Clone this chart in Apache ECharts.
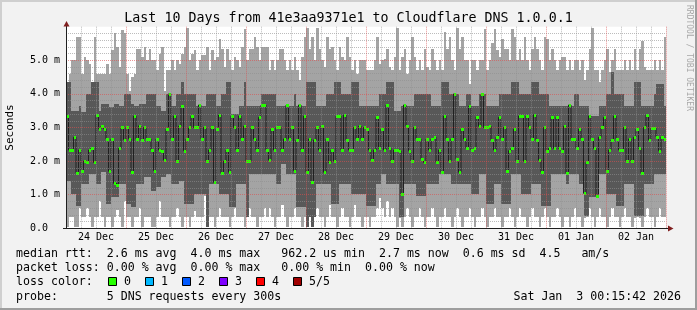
<!DOCTYPE html>
<html><head><meta charset="utf-8">
<script src="https://cdn.jsdelivr.net/npm/echarts@6/dist/echarts.min.js"></script>
<style>html,body{margin:0;padding:0;background:#f2f2f2}#c{width:697px;height:310px}</style>
</head><body><div id="c"></div>
<script>
// ---- data (milliseconds), one value per hour, first hour starts Dec 24 00:00 ----
const dayLabels = ['24 Dec','25 Dec','26 Dec','27 Dec','28 Dec','29 Dec','30 Dec','31 Dec','01 Jan','02 Jan'];
const dayLabelHours = [-12,12,36,60,84,108,132,156,180,204];
const yTickLabels = ['0.0  ','1.0 m','2.0 m','3.0 m','4.0 m','5.0 m'];

const medianMs = [
3.35,2.33,2.33,2.71,1.65,2.33,1.72,2.0,1.96,2.33,2.39,1.96,3.38,2.96,3.04,2.96,2.66,1.7,2.66,1.34,1.3,2.38,3.0,2.64,3.0,2.66,1.67,3.34,2.66,3.05,2.64,3.0,2.66,2.66,2.33,1.72,2.66,2.33,2.31,2.03,
2.95,4.0,2.66,3.34,2.0,3.04,3.63,2.31,2.66,3.0,3.34,3.0,3.0,3.67,2.66,3.0,2.0,2.33,3.0,1.37,2.95,3.38,1.64,2.0,2.33,1.67,3.34,3.0,2.33,3.34,2.66,3.04,2.0,2.0,3.0,2.66,2.33,3.3,3.67,3.67,
2.33,2.03,2.96,2.33,3.0,3.0,2.33,2.66,3.67,2.66,3.0,1.72,2.63,3.67,2.33,3.34,1.67,2.66,1.37,2.63,3.0,2.33,3.04,1.67,2.66,1.96,2.33,2.0,3.34,3.34,2.33,3.37,2.63,2.33,2.33,3.0,2.66,3.04,2.66,3.0,
2.95,2.33,2.03,2.33,3.3,2.38,2.95,2.33,3.67,2.38,2.0,2.33,2.33,2.31,1.02,3.67,3.04,2.31,2.0,3.0,2.66,2.66,2.06,1.96,2.66,2.33,2.66,2.71,1.96,2.33,1.67,3.34,2.66,2.0,2.66,4.0,2.06,1.67,2.95,2.66,
2.38,3.63,2.33,2.38,3.32,3.04,4.0,3.0,3.0,3.04,2.63,2.33,2.71,3.3,2.66,3.0,1.72,2.31,2.38,2.95,2.0,3.34,3.34,2.0,3.34,3.0,2.66,3.38,2.63,2.03,1.67,3.0,2.31,2.38,3.3,2.38,3.3,2.38,2.31,3.04,
1.64,3.67,2.66,2.66,2.38,2.95,2.66,1.04,1.96,3.34,2.66,2.38,0.97,2.71,3.0,3.3,1.72,2.33,2.63,3.34,2.66,2.33,2.33,3.0,2.0,2.66,2.0,2.71,2.95,2.38,1.64,3.0,3.38,2.63,2.98,2.98,2.72,2.31,2.72,2.66
];
const maxMs = [
4.34,4.6,5.0,5.0,5.68,5.68,4.6,5.1,5.0,4.9,4.35,5.7,4.6,4.6,4.6,4.6,4.9,4.6,5.3,5.8,5.4,4.8,5.9,5.8,4.6,4.1,4.5,4.6,5.35,5.35,5.1,5.4,5.0,5.35,5.0,5.0,4.7,5.2,5.4,4.1,
4.7,4.7,5.0,4.7,5.0,4.9,5.2,5.4,5.95,5.0,5.2,5.3,4.7,5.0,5.15,5.15,5.4,4.7,5.3,5.0,5.1,5.63,5.35,4.8,5.35,5.0,4.7,5.1,5.0,4.8,5.4,5.93,5.0,5.35,5.35,5.68,5.4,5.0,5.4,5.4,
5.4,4.7,5.0,4.7,5.0,5.35,5.35,5.0,4.7,5.0,4.7,5.1,4.7,4.4,5.1,5.68,5.95,5.35,5.68,5.0,5.95,5.35,5.0,4.8,5.68,5.35,5.4,5.0,4.7,5.4,5.1,5.0,5.68,5.1,4.7,5.0,4.6,5.0,5.0,5.0,
4.7,4.7,4.7,5.0,5.68,4.9,5.0,5.05,5.35,4.8,4.7,5.1,5.95,4.7,5.1,5.35,4.6,5.0,5.68,5.1,4.7,5.0,4.7,5.35,4.8,4.7,5.35,5.0,4.7,5.0,4.7,5.83,5.35,5.68,5.0,4.7,5.95,5.35,5.68,5.0,
5.0,4.3,5.0,5.0,4.7,5.0,5.0,5.93,4.7,5.0,5.5,5.93,5.3,5.1,5.63,5.35,5.35,5.0,5.93,5.68,5.0,5.35,5.0,5.68,5.0,4.7,5.35,5.68,5.35,5.0,4.7,5.68,5.63,5.0,5.35,5.0,4.7,5.0,5.1,5.1,
4.7,5.0,4.7,5.0,5.0,4.7,5.0,4.4,4.7,5.35,5.95,4.7,4.7,4.34,4.7,5.0,5.35,4.65,5.0,5.35,4.7,4.7,4.7,5.0,4.7,5.0,4.7,5.35,4.7,5.35,5.58,4.8,4.7,4.7,4.7,5.0,4.7,5.0,4.7,5.68
];
const darkHighMs = [
4.34,4.34,3.5,3.5,3.5,3.65,3.45,3.45,4.0,4.0,4.34,4.34,4.34,3.5,3.7,3.7,3.7,3.6,3.6,3.7,3.7,3.65,3.65,4.0,4.0,4.0,3.7,3.65,3.65,3.7,3.7,3.7,4.0,4.0,4.0,4.0,3.65,3.65,3.5,3.5,
4.0,4.0,3.65,3.65,4.0,4.0,4.34,4.0,4.0,4.0,4.0,4.0,3.65,3.65,3.65,3.65,4.0,4.0,4.0,4.0,3.65,3.65,4.0,4.0,4.34,4.34,3.4,3.4,3.4,3.65,3.65,4.34,3.65,3.65,3.65,3.65,3.65,3.65,4.0,4.0,
4.0,4.0,4.0,4.0,3.65,3.65,3.65,3.65,3.65,3.65,3.65,4.0,3.65,3.65,3.65,3.65,4.34,4.34,4.34,4.34,3.65,3.65,3.65,3.65,4.0,4.0,4.0,4.34,4.34,4.34,4.0,4.0,4.0,4.0,4.34,4.34,4.34,3.65,3.65,3.65,
3.65,3.65,3.65,3.65,3.65,4.0,4.0,4.0,4.34,4.34,4.34,3.5,3.5,3.5,3.65,3.65,3.65,3.65,3.65,4.0,4.0,4.0,4.0,4.0,4.0,4.0,3.65,3.65,3.65,3.65,4.34,4.34,4.34,4.0,4.0,4.0,4.0,3.65,3.65,3.65,
4.0,4.0,3.65,3.65,3.65,4.0,4.0,4.0,3.65,3.65,3.65,3.65,3.65,4.0,4.0,4.0,4.0,4.0,4.34,4.34,4.34,4.0,4.0,4.0,4.0,4.0,4.34,4.34,4.34,4.0,4.0,4.0,4.0,3.65,3.65,3.65,3.65,3.65,3.65,3.65,
3.65,3.65,3.65,4.0,4.0,3.65,3.65,3.65,3.65,3.35,3.35,3.35,3.35,3.65,3.65,3.65,4.0,4.0,4.65,4.0,4.0,4.0,4.0,3.65,3.65,3.65,3.65,4.34,4.34,4.34,3.65,3.65,3.65,3.65,3.65,4.0,4.3,4.3,4.3,3.65
];
const darkLowMs = [
1.42,1.42,1.02,1.02,0.67,0.67,1.32,1.32,1.32,1.62,1.62,1.62,1.32,1.32,1.67,1.67,0.72,0.72,0.92,0.92,0.92,1.32,1.32,1.32,0.72,0.72,0.62,0.62,1.32,1.32,1.32,1.52,1.52,1.52,1.12,1.12,1.22,1.22,1.52,1.52,
1.62,1.62,1.32,1.32,1.32,1.42,1.42,0.72,0.72,0.72,0.72,1.02,1.02,1.02,1.02,1.02,0.05,1.32,1.32,1.32,1.32,1.02,1.02,1.02,1.02,0.62,0.62,0.62,1.32,1.32,1.32,1.32,0.33,1.62,1.62,1.62,1.62,1.62,1.62,1.62,
1.62,1.62,1.62,1.62,1.32,1.32,1.92,1.92,1.62,1.62,1.62,1.62,0.62,0.62,0.62,0.62,0.05,0.33,0.05,0.33,1.32,1.32,1.32,1.32,1.32,1.32,0.72,0.72,0.72,1.32,1.32,1.32,1.32,1.32,1.02,1.02,1.02,1.02,1.02,1.02,
0.67,0.67,0.67,0.67,1.32,1.32,1.62,1.62,1.32,1.32,1.32,1.32,1.32,0.33,0.33,1.32,1.32,1.32,1.32,1.32,0.97,0.97,0.97,0.97,1.32,1.32,1.32,1.32,1.32,1.62,1.62,1.62,1.62,1.62,1.32,1.32,1.32,1.32,1.32,1.32,
1.32,1.32,1.02,1.02,1.02,1.62,1.62,1.62,0.72,0.72,0.72,1.32,1.32,1.32,0.72,0.72,0.72,0.72,1.62,1.62,1.62,1.62,1.02,1.02,1.02,1.02,1.32,1.32,1.32,1.32,0.67,0.67,0.67,0.67,1.62,1.62,1.62,1.62,1.62,1.62,
1.32,1.62,1.62,1.62,1.62,1.32,1.32,0.38,0.38,0.92,0.92,0.92,0.92,1.62,1.62,1.62,1.02,1.02,1.02,1.02,0.67,0.67,0.67,1.32,1.32,1.32,1.32,0.38,0.38,0.38,0.38,1.32,1.32,1.32,1.32,1.62,1.62,1.62,1.62,1.62
];
const minMs = [
0.05,0.35,0.35,0.05,0.05,0.6,0.35,0.35,0.6,0.35,0.05,0.35,0.35,0.8,0.35,0.05,0.35,0.35,0.05,0.35,0.55,0.35,0.05,0.8,0.35,0.35,0.05,0.35,0.35,0.6,0.05,0.35,0.35,0.35,0.05,0.05,0.35,0.8,0.35,0.35,
0.35,0.05,0.35,0.35,0.6,0.35,0.05,0.35,0.35,0.05,0.35,0.5,0.35,0.35,0.35,0.95,0.05,0.35,0.35,0.05,0.35,0.6,0.35,0.35,0.35,0.05,0.35,0.6,0.35,0.35,0.35,0.05,0.33,0.6,0.35,0.35,0.05,0.35,0.35,0.6,
0.35,0.6,0.35,0.05,0.35,0.35,0.7,0.35,0.05,0.35,0.35,0.6,0.35,0.35,0.05,0.35,0.05,0.35,0.05,0.35,0.6,0.35,0.35,0.05,0.35,0.7,0.35,0.35,0.05,0.35,0.6,0.35,0.35,0.05,0.35,0.7,0.35,0.35,0.05,0.35,
0.35,0.05,0.35,0.35,0.6,0.9,0.6,0.35,0.8,0.35,0.6,0.35,0.05,0.3,0.05,0.35,0.6,0.35,0.05,0.35,0.35,0.6,0.35,0.05,0.35,0.35,0.6,0.35,0.05,0.35,0.35,0.6,0.35,0.35,0.05,0.35,0.6,0.35,0.05,0.35,
0.35,0.6,0.35,0.05,0.35,0.35,0.6,0.35,0.05,0.35,0.35,0.6,0.35,0.35,0.05,0.35,0.35,0.6,0.35,0.05,0.35,0.6,0.35,0.35,0.05,0.35,0.6,0.35,0.35,0.05,0.35,0.6,0.35,0.05,0.35,0.35,0.6,0.35,0.05,0.35,
0.35,0.05,0.35,0.6,0.35,0.35,0.05,0.3,0.35,0.6,0.35,0.05,0.35,0.6,0.35,0.35,0.05,0.35,0.6,0.35,0.35,0.05,0.35,0.6,0.35,0.35,0.05,0.3,0.35,0.3,0.05,0.35,0.6,0.35,0.35,0.05,0.35,0.6,0.35,0.35
];
const lossLabels = ['0','1','2','3','4','5/5'];
const lossColors = ['#26ff00','#00b8ff','#0059ff','#7e00ff','#ff0000','#a00000'];

const titleText = 'Last 10 Days from 41e3aa9371e1 to Cloudflare DNS 1.0.0.1';
const legendLines = [
  'median rtt:  2.6 ms avg  4.0 ms max   962.2 us min  2.7 ms now  0.6 ms sd  4.5   am/s',
  'packet loss: 0.00 % avg  0.00 % max   0.00 % min  0.00 % now',
  'loss color:',
  'probe:       5 DNS requests every 300s'
];
const stampText = 'Sat Jan  3 00:15:42 2026';
const watermark = 'RRDTOOL / TOBI OETIKER';

// ---- chart ----
const MONO = "'DejaVu Sans Mono', monospace";
const STEP = 1; // hours per data point
const hours = medianMs.map((_, i) => i - 24);
const chart = echarts.init(document.getElementById('c'), null, {renderer: 'canvas'});

const smokeData = hours.map((t, i) => [t, minMs[i], darkLowMs[i], darkHighMs[i], maxMs[i]]);
const medianData = hours.map((t, i) => [t, medianMs[i]]);
medianData.push([hours[hours.length - 1] + STEP, medianMs[medianMs.length - 1]]);

function colRect(api, t, a, b) {
  const x0 = Math.round(api.coord([t, 0])[0]);
  const x1 = Math.round(api.coord([t + STEP, 0])[0]);
  const ya = Math.round(api.coord([t, a])[1]);
  const yb = Math.round(api.coord([t, b])[1]);
  return {x: x0, y: Math.min(ya, yb), width: x1 - x0, height: Math.abs(ya - yb)};
}

const textG = [];
const lineYs = [253.8, 268.3, 281.8, 296.8];
legendLines.forEach((s, k) => textG.push({type: 'text', x: 16, y: lineYs[k],
  style: {text: s, font: '11.6px ' + MONO, fill: '#000', verticalAlign: 'middle'}}));
lossLabels.forEach((lab, k) => {
  const bx = 108 + k * 37;
  textG.push({type: 'rect', shape: {x: bx + 0.5, y: 277.5, width: 8, height: 8},
    style: {fill: lossColors[k], stroke: '#000', lineWidth: 1}});
  textG.push({type: 'text', x: bx + 16, y: 281.8,
    style: {text: lab, font: '11.6px ' + MONO, fill: '#000', verticalAlign: 'middle'}});
});
textG.push({type: 'text', x: 681, y: 296.8,
  style: {text: stampText, font: '11.6px ' + MONO, fill: '#000', align: 'right', verticalAlign: 'middle'}});
textG.push({type: 'text', x: 348.5, y: 19,
  style: {text: titleText, font: '13.3px ' + MONO, fill: '#000', align: 'center', verticalAlign: 'middle'}});
textG.push({type: 'text', x: 689, y: 58, rotation: -Math.PI / 2,
  style: {text: watermark, font: '8px ' + MONO, fill: '#a8a8a8', align: 'center', verticalAlign: 'middle'}});
// frame
textG.push({type: 'rect', shape: {x: 0, y: 0, width: 697, height: 2}, style: {fill: '#cfcfcf'}, z: -1});
textG.push({type: 'rect', shape: {x: 0, y: 0, width: 2, height: 310}, style: {fill: '#cfcfcf'}, z: -1});
textG.push({type: 'rect', shape: {x: 0, y: 308, width: 697, height: 2}, style: {fill: '#9e9e9e'}, z: -1});
textG.push({type: 'rect', shape: {x: 695, y: 0, width: 2, height: 310}, style: {fill: '#9e9e9e'}, z: -1});
// axis extensions and arrows
textG.push({type: 'line', shape: {x1: 66.5, y1: 27, x2: 66.5, y2: 24}, style: {stroke: '#1f1f1f', lineWidth: 1}, z: 20});
textG.push({type: 'line', shape: {x1: 63, y1: 228.5, x2: 668, y2: 228.5}, style: {stroke: '#1f1f1f', lineWidth: 1}, z: 20});
textG.push({type: 'polygon', shape: {points: [[63.5, 26.5], [69.5, 26.5], [66.5, 21]]}, style: {fill: '#801f1f'}, z: 20});
textG.push({type: 'polygon', shape: {points: [[668, 225.5], [668, 231.5], [673.5, 228.5]]}, style: {fill: '#801f1f'}, z: 20});

const gridGray = {color: 'rgba(143,143,143,0.6)', width: 1, type: [1, 1]};
const gridRed = {color: 'rgba(222,79,79,0.6)', width: 1, type: [1, 1]};

chart.setOption({
  animation: false,
  backgroundColor: '#f2f2f2',
  grid: {left: 66, top: 26.7, width: 600, height: 201.6, show: true, backgroundColor: '#ffffff', borderWidth: 0,
    containLabel: false, outerBoundsMode: 'none'},
  xAxis: {
    type: 'value', min: -24, max: 216, interval: 24, z: 10,
    axisLine: {show: true, onZero: false, lineStyle: {color: '#1f1f1f', width: 1}},
    axisTick: {show: false},
    axisLabel: {customValues: dayLabelHours, formatter: v => dayLabels[Math.round((v + 12) / 24)] || '',
      fontFamily: MONO, fontSize: 10, color: '#000', margin: 4},
    splitLine: {show: true, showMinLine: false, showMaxLine: true, lineStyle: gridRed},
    minorTick: {show: false, splitNumber: 4},
    minorSplitLine: {show: true, lineStyle: gridGray}
  },
  yAxis: {
    type: 'value', min: 0, max: 6, interval: 1, z: 10,
    name: 'Seconds', nameLocation: 'middle', nameGap: 50, nameRotate: 90,
    nameTextStyle: {fontFamily: MONO, fontSize: 11, color: '#000'},
    axisLine: {show: true, onZero: false, lineStyle: {color: '#1f1f1f', width: 1}},
    axisTick: {show: false},
    axisLabel: {formatter: v => yTickLabels[v] || '', showMaxLabel: false,
      fontFamily: MONO, fontSize: 10, color: '#000', margin: 6},
    splitLine: {show: true, showMinLine: false, showMaxLine: false, lineStyle: gridRed},
    minorTick: {show: false, splitNumber: 5},
    minorSplitLine: {show: true, lineStyle: gridGray}
  },
  series: [
    {type: 'custom', z: 1, clip: true, data: smokeData, encode: {x: 0, y: [1, 2, 3, 4]},
      renderItem: (p, api) => {
        const t = api.value(0);
        return {type: 'group', children: [
          {type: 'rect', shape: colRect(api, t, api.value(1), api.value(4)), style: {fill: '#a4a4a4'}},
          {type: 'rect', shape: colRect(api, t, api.value(2), api.value(3)), style: {fill: '#585858'}}
        ]};
      }},
    {type: 'line', z: 2, step: 'end', data: medianData, showSymbol: false, symbol: 'none',
      lineStyle: {color: '#202020', width: 1}},
    {type: 'custom', z: 3, clip: true, data: medianData.slice(0, medianMs.length), encode: {x: 0, y: 1},
      renderItem: (p, api) => {
        const t = api.value(0);
        const x0 = Math.round(api.coord([t, 0])[0]);
        const x1 = Math.round(api.coord([t + STEP, 0])[0]);
        const yc = Math.round(api.coord([t, api.value(1)])[1]);
        return {type: 'rect', shape: {x: x0, y: yc - 1, width: x1 - x0, height: 3}, style: {fill: lossColors[0]}};
      }}
  ],
  graphic: textG
});
</script></body></html>
